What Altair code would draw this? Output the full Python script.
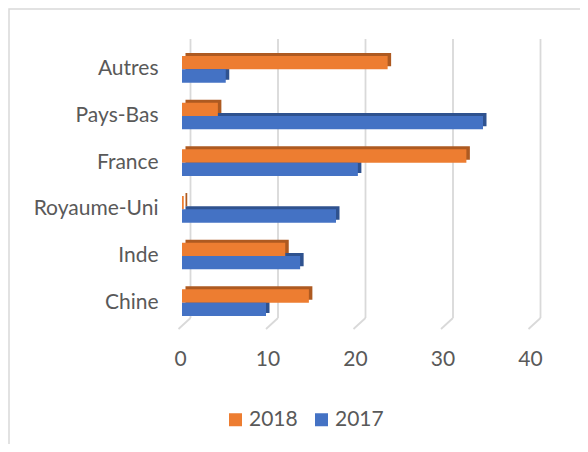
import altair as alt
import pandas as pd

categories = ["Autres", "Pays-Bas", "France", "Royaume-Uni", "Inde", "Chine"]
years = ["2018", "2017"]
values_2018 = [23.5, 4.1, 32.5, 0.2, 11.8, 14.5]
values_2017 = [5.0, 34.4, 20.1, 17.6, 13.5, 9.6]
x_ticks = [0, 10, 20, 30, 40]

front_colors = ["#ED7D31", "#4472C4"]
side_colors = ["#AE5A21", "#2F528F"]
FONT = "Lato"
TXT = "#595959"

rows = []
for c, v18, v17 in zip(categories, values_2018, values_2017):
    rows.append({"cat": c, "year": "2018", "value": v18})
    rows.append({"cat": c, "year": "2017", "value": v17})
df = pd.DataFrame(rows)
grid_df = pd.DataFrame({"t": x_ticks})

W, H = 350, 280
PI, PO = 0.43, 0.215
STEP = H / (len(categories) - PI + 2 * PO)
BW = STEP * (1 - PI)

xscale = alt.Scale(domain=[0, 40])
xaxis = alt.Axis(title=None, values=x_ticks, grid=False, ticks=False, domain=False,
                 labelPadding=22, labelFont=FONT, labelFontSize=21, labelFlush=False,
                 labelColor=TXT, labelOffset=-2)
yenc = alt.Y("cat:N", sort=categories,
             scale=alt.Scale(paddingInner=PI, paddingOuter=PO),
             axis=alt.Axis(title=None, ticks=False, domain=False, labelPadding=24,
                           labelFont=FONT, labelFontSize=21, labelColor=TXT))

border = alt.Chart(alt.Data(values=[{}])).mark_rect(
    fillOpacity=0, stroke="#D9D9D9", strokeWidth=1.5
).encode(x=alt.value(-173), x2=alt.value(600), y=alt.value(-37), y2=alt.value(600))

grid = alt.Chart(grid_df).mark_rule(color="#D9D9D9", strokeWidth=1.8, xOffset=8.5).encode(
    x=alt.X("t:Q", scale=xscale, axis=xaxis),
    y=alt.value(-7), y2=alt.value(272))

diag = alt.Chart(grid_df).mark_rule(color="#D9D9D9", strokeWidth=1.8,
                                    xOffset=8.5, x2Offset=-3.5).encode(
    x=alt.X("t:Q", scale=xscale, axis=xaxis), x2="t:Q",
    y=alt.value(272), y2=alt.value(283))

side = alt.Chart(df).mark_bar(xOffset=3.5, cornerRadius=0).encode(
    x=alt.X("value:Q", scale=xscale, axis=xaxis),
    y=yenc,
    yOffset=alt.YOffset("year:N", sort=years,
                        scale=alt.Scale(paddingInner=0, range=[-3, BW - 3])),
    color=alt.Color("year:N", scale=alt.Scale(domain=years, range=side_colors), legend=None))

front = alt.Chart(df).mark_bar(cornerRadius=0).encode(
    x=alt.X("value:Q", scale=xscale, axis=xaxis),
    y=yenc,
    yOffset=alt.YOffset("year:N", sort=years, scale=alt.Scale(paddingInner=0, range=[0, BW])),
    color=alt.Color("year:N", scale=alt.Scale(domain=years, range=front_colors),
                    legend=alt.Legend(title=None, orient="none", direction="horizontal",
                                      legendX=43, legendY=363, symbolType="square",
                                      symbolSize=169, symbolStrokeWidth=0, labelFont=FONT,
                                      labelFontSize=21, labelColor=TXT, columnPadding=13,
                                      padding=0, labelOffset=3)))

chart = alt.layer(border, grid, diag, side, front).resolve_scale(
    color="independent", yOffset="independent"
).properties(
    width=W, height=H,
    autosize=alt.AutoSizeParams(type="none"),
    padding={"left": 174, "top": 38, "right": 48, "bottom": 118},
).configure_view(stroke=None)

chart.save("out.html", embed_options={"renderer": "svg", "actions": False})
